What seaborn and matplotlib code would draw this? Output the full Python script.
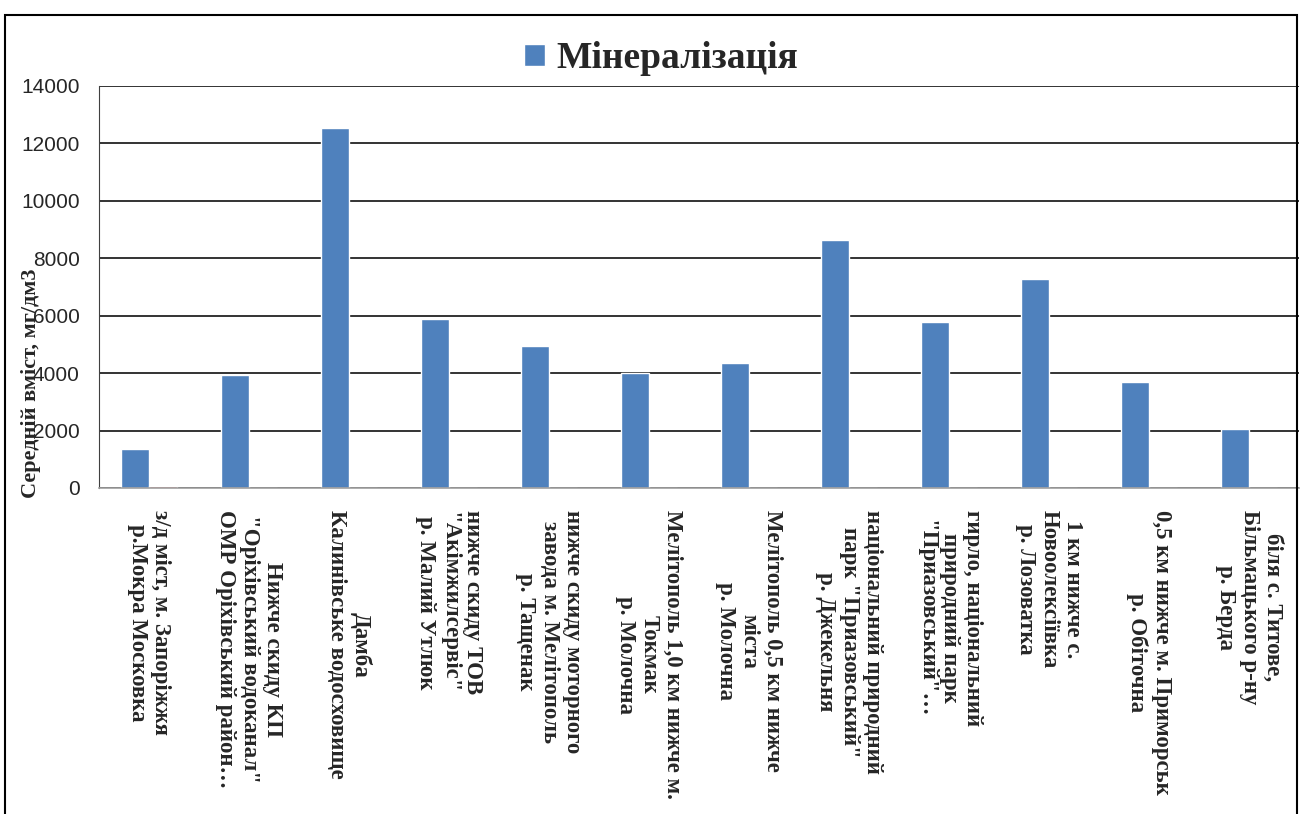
import pandas as pd
import numpy as np
import matplotlib.pyplot as plt
import matplotlib.patches as mpatches
import seaborn as sns

sns.set_style("white")
plt.rcParams['font.family'] = ['Liberation Serif', 'DejaVu Serif']

# Sampling points (labels as in the original chart)
sites = [
    'з/д міст, м. Запоріжжя\nр.Мокра Московка',
    'Нижче скиду КП\n"Оріхівський водоканал"\nОМР Оріхівський район…',
    'Дамба\nКалинівське водосховище',
    'нижче скиду ТОВ\n"Акімжилсервіс"\nр. Малий Утлюк',
    'нижче скиду моторного\nзавода м. Мелітополь\nр. Тащенак',
    'Мелітополь 1,0 км нижче м.\nТокмак\nр. Молочна',
    'Мелітополь 0,5 км нижче\nміста\nр. Молочна',
    'національний природний\nпарк "Приазовський"\nр. Джекельня',
    'гирло, національний\nприродний парк\n"Приазовський"…',
    '1 км нижче с.\nНовоолексіївка\nр. Лозоватка',
    '0,5 км нижче м. Приморськ\nр. Обіточна',
    'біля с. Титове,\nБільмацького р-ну\nр. Берда',
]
mineral = [1350, 3950, 12550, 5900, 4950, 4000, 4350, 8620, 5780, 7280, 3700, 2050]
series2 = [70, 0, 0, 0, 0, 0, 0, 0, 0, 0, 0, 0]

df = pd.DataFrame({
    'site': sites * 2,
    'series': ['Мінералізація'] * len(sites) + ['Ряд2'] * len(sites),
    'value': mineral + series2,
})

fig = plt.figure(figsize=(13.01, 8.14), dpi=100)
ax = fig.add_axes([0.0761, 0.4005, 0.9224, 0.4939])

sns.barplot(data=df, x='site', y='value', hue='series',
            hue_order=['Мінералізація', 'Ряд2'],
            palette=['#4F81BD', '#C0504D'], width=0.56,
            errorbar=None, ax=ax, saturation=1)

ax.set_ylim(0, 14000)
ax.set_yticks(np.arange(0, 14001, 2000))
ax.set_xlim(-0.5, len(sites) - 0.5)
ax.yaxis.grid(True, color='#333333', linewidth=1.4)
ax.set_axisbelow(True)

for s in ['top', 'right']:
    ax.spines[s].set_visible(False)
ax.spines['left'].set_color('#404040')
ax.spines['bottom'].set_color('#a0a0a0')
ax.spines['bottom'].set_linewidth(1.2)

ax.tick_params(axis='y', length=5, color='#404040', labelsize=15, pad=9)
for lab in ax.get_yticklabels():
    lab.set_family(['Liberation Sans', 'DejaVu Sans'])

# category separator ticks
ax.set_xticks(np.arange(-0.5, len(sites), 1.0), minor=True)
ax.tick_params(axis='x', which='minor', length=9, color='#a0a0a0', width=1.2)
ax.tick_params(axis='x', which='major', length=0, pad=16)
ax.set_xticklabels(sites, rotation=270, fontsize=16.5, fontweight='bold',
                   va='top', ha='center', multialignment='center',
                   linespacing=1.15)

ax.set_xlabel('')
ax.set_ylabel('')
fig.text(0.024, 0.529, 'Середній вміст, мг/дм3', rotation=90, fontsize=16,
         fontweight='bold', ha='center', va='center')

# legend only for the main series
handles, labels = ax.get_legend_handles_labels()
ax.get_legend().remove()
fig.legend(handles[:1], labels[:1], loc='center', bbox_to_anchor=(0.508, 0.928),
           frameon=False, prop={'size': 27, 'weight': 'bold'},
           handlelength=0.55, handleheight=0.55, handletextpad=0.3)

# chart frame
fig.patches.append(mpatches.Rectangle((5 / 1301, -0.05), 1292 / 1301, 1.05 - 15 / 814,
                                      transform=fig.transFigure, fill=False,
                                      edgecolor='black', linewidth=1.5))

fig.savefig('out.png', dpi=100)
